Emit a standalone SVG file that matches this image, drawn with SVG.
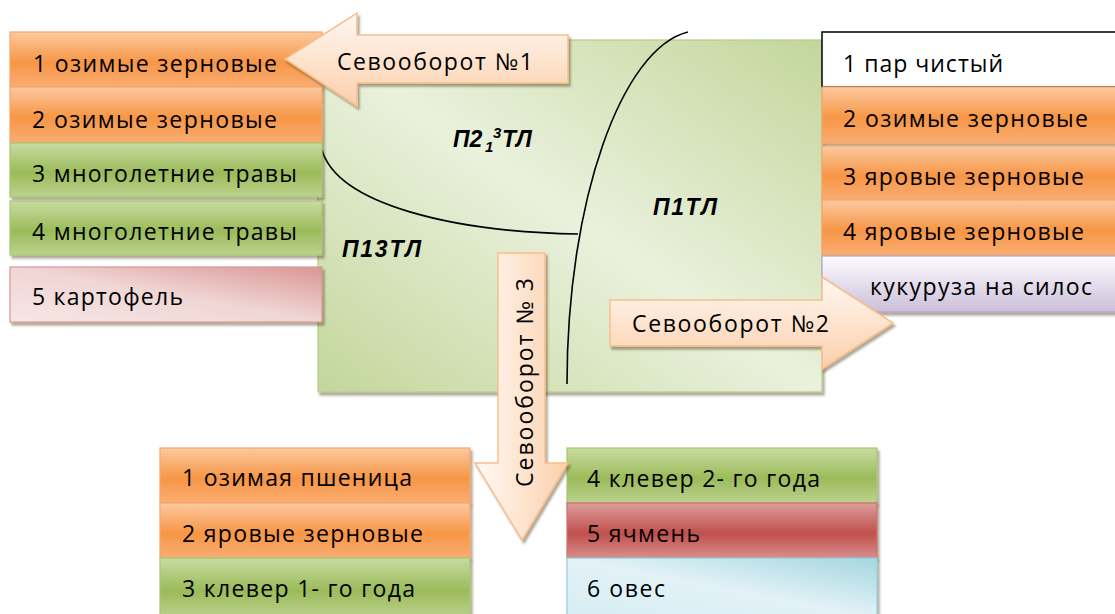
<svg xmlns="http://www.w3.org/2000/svg" width="1115" height="614" viewBox="0 0 1115 614">
<style>
.t{font-family:"Open Sans","Liberation Sans",Arial,sans-serif;font-size:23px;fill:#000}
.lb{font-family:"Liberation Sans",Arial,sans-serif;font-size:23px;font-weight:bold;font-style:italic;fill:#000}
.or{fill:url(#gOr);stroke:#f8a565;stroke-width:1.2}
.gr{fill:url(#gGr);stroke:#a9c56e;stroke-width:1.2}
.pk{fill:url(#gPk);stroke:#d99694;stroke-width:1.2}
.rd{fill:url(#gRd);stroke:#d0706d;stroke-width:1.2}
.bl{fill:url(#gBl);stroke:#92cddc;stroke-width:1.2}
.lv{fill:url(#gLv);stroke:#b3a2c7;stroke-width:1.2}
.ar{stroke:#f9be8c;stroke-width:1.5}
.cv{fill:none;stroke:#000;stroke-width:1.6}
.sh{filter:url(#ds)}
</style>
<defs>
<filter id="ds" x="-10%" y="-10%" width="130%" height="140%"><feDropShadow dx="2" dy="3" stdDeviation="0.8" flood-color="#3a2a10" flood-opacity="0.4"/></filter>
<linearGradient id="gOr" x1="0" y1="0" x2="0" y2="1"><stop offset="0" stop-color="#fbc9a0"/><stop offset="0.55" stop-color="#f79646"/><stop offset="1" stop-color="#f9ad72"/></linearGradient>
<linearGradient id="gGr" x1="0" y1="0" x2="0" y2="1"><stop offset="0" stop-color="#c8dba2"/><stop offset="0.55" stop-color="#9bbb59"/><stop offset="1" stop-color="#bcd28f"/></linearGradient>
<linearGradient id="gRd" x1="0" y1="0" x2="0" y2="1"><stop offset="0" stop-color="#dc9d9b"/><stop offset="0.55" stop-color="#c0504d"/><stop offset="1" stop-color="#d88e8c"/></linearGradient>
<linearGradient id="gPk" x1="0" y1="1" x2="1" y2="0"><stop offset="0" stop-color="#f6e6e5"/><stop offset="0.5" stop-color="#f0d6d5"/><stop offset="1" stop-color="#d99694"/></linearGradient>
<linearGradient id="gBl" x1="0" y1="1" x2="1" y2="0"><stop offset="0" stop-color="#d6edf3"/><stop offset="0.5" stop-color="#e2f2f6"/><stop offset="1" stop-color="#a5d5e1"/></linearGradient>
<linearGradient id="gLv" x1="0" y1="0" x2="0" y2="1"><stop offset="0" stop-color="#fdfcff"/><stop offset="1" stop-color="#cbbfd9"/></linearGradient>
<linearGradient id="gMain" x1="1" y1="0" x2="0" y2="1"><stop offset="0" stop-color="#c3d69b"/><stop offset="0.5" stop-color="#eaf1dd"/><stop offset="1" stop-color="#c3d69b"/></linearGradient>
<linearGradient id="gArV" x1="0" y1="0" x2="0" y2="1"><stop offset="0" stop-color="#fff8f3"/><stop offset="1" stop-color="#fbcfaa"/></linearGradient>
<linearGradient id="gArH" x1="0" y1="0" x2="1" y2="0"><stop offset="0" stop-color="#fffaf6"/><stop offset="1" stop-color="#fbcfaa"/></linearGradient>
</defs>

<g id="field">
<rect x="318" y="40" width="504" height="352" fill="url(#gMain)" stroke="#b5cc8c" stroke-width="1.2" class="sh"/>
</g>

<g id="connectors">
<path class="cv" d="M322,150 C338,205 455,232 578,234"/>
<path class="cv" d="M688,32 C622,48 567,200 567,384"/>
</g>

<g id="label-p2"><text class="lb" x="453" y="147">П2<tspan x="485" y="152" font-size="15">1</tspan><tspan x="493" y="138" font-size="15">3</tspan><tspan x="502" y="147">ТЛ</tspan></text></g>
<g id="label-p1"><text class="lb" x="653" y="215" textLength="64">П1ТЛ</text></g>
<g id="label-p13"><text class="lb" x="342" y="257" textLength="79">П13ТЛ</text></g>

<g id="left-1"><rect class="or sh" x="10" y="32" width="312" height="55"/><text class="t" x="33" y="72" textLength="244">1 озимые зерновые</text></g>
<g id="left-2"><rect class="or sh" x="10" y="87" width="312" height="55"/><text class="t" x="32" y="128" textLength="245">2 озимые зерновые</text></g>
<g id="left-3"><rect class="gr sh" x="10" y="143" width="312" height="54"/><text class="t" x="32" y="182" textLength="265">3 многолетние травы</text></g>
<g id="left-4"><rect class="gr sh" x="10" y="201" width="312" height="54"/><text class="t" x="32" y="240" textLength="265">4 многолетние травы</text></g>
<g id="left-5"><rect class="pk sh" x="10" y="267" width="312" height="55"/><text class="t" x="32" y="305" textLength="151">5 картофель</text></g>

<g id="right-1"><rect x="822" y="32" width="312" height="55" fill="#fff" stroke="#000" stroke-width="1.5"/><text class="t" x="843" y="72" textLength="160">1 пар чистый</text></g>
<g id="right-2"><rect class="or sh" x="822" y="87" width="312" height="56"/><text class="t" x="843" y="127" textLength="245">2 озимые зерновые</text></g>
<g id="right-3"><rect class="or sh" x="822" y="146" width="312" height="54"/><text class="t" x="843" y="185" textLength="241">3 яровые зерновые</text></g>
<g id="right-4"><rect class="or sh" x="822" y="200" width="312" height="55"/><text class="t" x="843" y="240" textLength="241">4 яровые зерновые</text></g>
<g id="right-5"><rect class="lv sh" x="822" y="256" width="312" height="56"/><text class="t" x="870" y="295" textLength="222">кукуруза на силос</text></g>

<g id="bottom-1"><rect class="or sh" x="160" y="448" width="310" height="55"/><text class="t" x="182" y="486" textLength="230">1 озимая пшеница</text></g>
<g id="bottom-2"><rect class="or sh" x="160" y="503" width="310" height="55"/><text class="t" x="182" y="542" textLength="241">2 яровые зерновые</text></g>
<g id="bottom-3"><rect class="gr sh" x="160" y="558" width="310" height="60"/><text class="t" x="182" y="597" textLength="233">3 клевер 1- го года</text></g>
<g id="bottom-4"><rect class="gr sh" x="567" y="448" width="310" height="55"/><text class="t" x="587" y="487" textLength="233">4 клевер 2- го года</text></g>
<g id="bottom-5"><rect class="rd sh" x="567" y="503" width="310" height="55"/><text class="t" x="587" y="542" textLength="113">5 ячмень</text></g>
<g id="bottom-6"><rect class="bl sh" x="567" y="558" width="310" height="60"/><text class="t" x="587" y="597" textLength="78">6 овес</text></g>

<g id="arrow-1"><path class="ar sh" fill="url(#gArV)" d="M285,59 L357,13 L357,35 L568,35 L568,83 L357,83 L357,106 Z"/><text class="t" x="337" y="70" textLength="196">Севооборот №1</text></g>
<g id="arrow-2"><path class="ar sh" fill="url(#gArV)" d="M610,300 L822,300 L822,277 L893,323 L822,369 L822,346 L610,346 Z"/><text class="t" x="632" y="332" textLength="197">Севооборот №2</text></g>
<g id="arrow-3"><path class="ar sh" fill="url(#gArH)" d="M498,253 L545,253 L545,463 L568,463 L522,540 L475,463 L498,463 Z"/><text class="t" transform="translate(533,487) rotate(-90)" x="0" y="0" textLength="209">Севооборот № 3</text></g>
</svg>
